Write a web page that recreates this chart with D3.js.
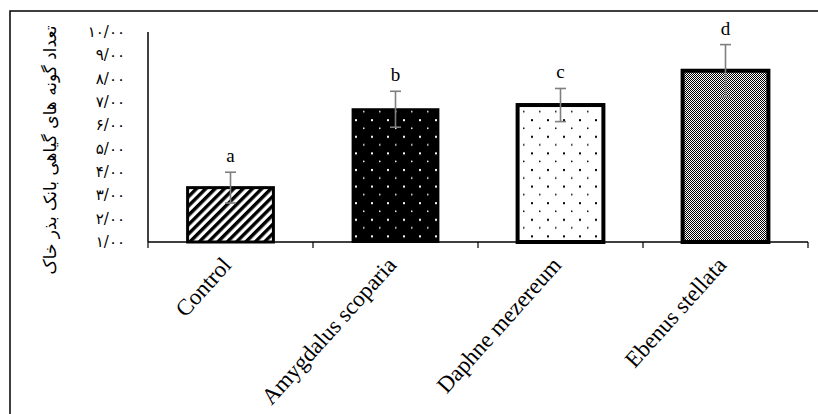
<!DOCTYPE html>
<html>
<head>
<meta charset="utf-8">
<script src="https://cdn.jsdelivr.net/npm/d3@7"></script>
<style>
  body { margin: 0; background: #fff; }
  svg { display: block; }
</style>
</head>
<body>
<svg width="818" height="414"></svg>
<script>
let categories = ['Control', 'Amygdalus scoparia', 'Daphne mezereum', 'Ebenus stellata']
let means = [3.33, 6.69, 6.87, 8.34]
let errors = [0.66, 0.77, 0.71, 1.12]
let letters = ['a', 'b', 'c', 'd']
let yTicks = [1, 2, 3, 4, 5, 6, 7, 8, 9, 10]
let yTitle = 'تعداد گونه های گیاهی بانک بذر خاک'

let svg = d3.select('svg')
let plotL = 148, plotR = 808, plotT = 32, plotB = 242

// persian digits with '/' as decimal mark
function fa(v) {
    let s = v.toFixed(2).replace('.', '/')
    return s.replace(/[0-9]/g, function (c) { return String.fromCharCode(0x06F0 + (+c)) })
}

let x = d3.scaleBand().domain(categories).range([plotL, plotR]).paddingInner(0.48).paddingOuter(0.24)
let y = d3.scaleLinear().domain([1, 10]).range([plotB, plotT])

// patterns
let defs = svg.append('defs')
let stripes = defs.append('pattern').attr('id', 'p0').attr('patternUnits', 'userSpaceOnUse')
    .attr('width', 6.6).attr('height', 6.6).attr('patternTransform', 'rotate(45)')
stripes.append('rect').attr('width', 6.6).attr('height', 6.6).attr('fill', '#fff')
stripes.append('rect').attr('width', 3.4).attr('height', 6.6).attr('fill', '#000')

function dots(id, bg, fg) {
    let p = defs.append('pattern').attr('id', id).attr('patternUnits', 'userSpaceOnUse')
        .attr('width', 16).attr('height', 16.6)
    p.append('rect').attr('width', 16).attr('height', 16.6).attr('fill', bg)
    p.append('rect').attr('x', 3).attr('y', 3).attr('width', 2).attr('height', 2).attr('fill', fg)
    p.append('rect').attr('x', 11).attr('y', 11.3).attr('width', 1.5).attr('height', 1.5).attr('fill', fg)
}
dots('p1', '#000', '#fff')
dots('p2', '#fff', '#000')

let checker = defs.append('pattern').attr('id', 'p3').attr('patternUnits', 'userSpaceOnUse')
    .attr('width', 2).attr('height', 2)
checker.append('rect').attr('width', 2).attr('height', 2).attr('fill', '#fff')
checker.append('rect').attr('width', 1).attr('height', 1).attr('fill', '#000')
checker.append('rect').attr('x', 1).attr('y', 1).attr('width', 1).attr('height', 1).attr('fill', '#000')

let fills = ['url(#p0)', 'url(#p1)', 'url(#p2)', 'url(#p3)']
let strokeW = [3, 2, 4, 4]

// outer frame
svg.append('rect').attr('x', 10).attr('y', 11).attr('width', 820).attr('height', 420)
    .attr('fill', 'none').attr('stroke', '#000').attr('stroke-width', 1.5)

// axes
svg.append('line').attr('x1', plotL).attr('x2', plotL).attr('y1', plotT).attr('y2', plotB)
    .attr('stroke', '#000').attr('stroke-width', 1.5)
svg.append('line').attr('x1', plotL).attr('x2', plotR).attr('y1', plotB).attr('y2', plotB)
    .attr('stroke', '#000').attr('stroke-width', 1.5)

let bounds = categories.map(function (c) { return x(c) - x.step() * x.paddingInner() / 2 })
bounds.push(plotR)
svg.selectAll('.xt').data(bounds).join('line').attr('class', 'xt')
    .attr('x1', function (d) { return d }).attr('x2', function (d) { return d })
    .attr('y1', plotB).attr('y2', plotB + 6)
    .attr('stroke', '#000').attr('stroke-width', 1.2)

svg.selectAll('.yl').data(yTicks).join('text').attr('class', 'yl')
    .attr('x', 125).attr('y', function (d) { return y(d) + 5 })
    .attr('text-anchor', 'end')
    .style('font-family', 'DejaVu Sans').style('font-size', '15px')
    .text(fa)

svg.append('text')
    .attr('transform', 'translate(56,150) rotate(-90)')
    .attr('text-anchor', 'middle')
    .style('font-family', 'DejaVu Sans').style('font-size', '17px')
    .text(yTitle)

// bars
let data = categories.map(function (c, i) { return { c: c, v: means[i], e: errors[i], l: letters[i], i: i } })

svg.selectAll('.bar').data(data).join('rect').attr('class', 'bar')
    .attr('x', function (d) { return x(d.c) })
    .attr('y', function (d) { return y(d.v) })
    .attr('width', x.bandwidth())
    .attr('height', function (d) { return y(1) - y(d.v) })
    .attr('fill', function (d) { return fills[d.i] })
    .attr('stroke', '#000')
    .attr('stroke-width', function (d) { return strokeW[d.i] })

// error bars
let cx = function (d) { return x(d.c) + x.bandwidth() / 2 }
let err = svg.selectAll('.err').data(data).join('g').attr('class', 'err')
    .attr('stroke', '#7f7f7f').attr('stroke-width', 1.6)
err.append('line').attr('x1', cx).attr('x2', cx)
    .attr('y1', function (d) { return y(d.v + d.e) }).attr('y2', function (d) { return y(d.v - d.e) })
err.append('line').attr('x1', function (d) { return cx(d) - 5.5 }).attr('x2', function (d) { return cx(d) + 5.5 })
    .attr('y1', function (d) { return y(d.v + d.e) }).attr('y2', function (d) { return y(d.v + d.e) })
err.append('line').attr('x1', function (d) { return cx(d) - 5.5 }).attr('x2', function (d) { return cx(d) + 5.5 })
    .attr('y1', function (d) { return y(d.v - d.e) }).attr('y2', function (d) { return y(d.v - d.e) })

svg.selectAll('.let').data(data).join('text').attr('class', 'let')
    .attr('x', cx).attr('y', function (d) { return y(d.v + d.e) - 10 })
    .attr('text-anchor', 'middle')
    .style('font-family', 'Liberation Serif').style('font-size', '19px')
    .text(function (d) { return d.l })

// category labels
svg.selectAll('.xl').data(data).join('text').attr('class', 'xl')
    .attr('transform', function (d) { return 'translate(' + (cx(d) + 2) + ',' + (plotB + 24) + ') rotate(-48)' })
    .attr('text-anchor', 'end')
    .style('font-family', 'Liberation Serif').style('font-size', '23px')
    .text(function (d) { return d.c })
</script>
</body>
</html>
